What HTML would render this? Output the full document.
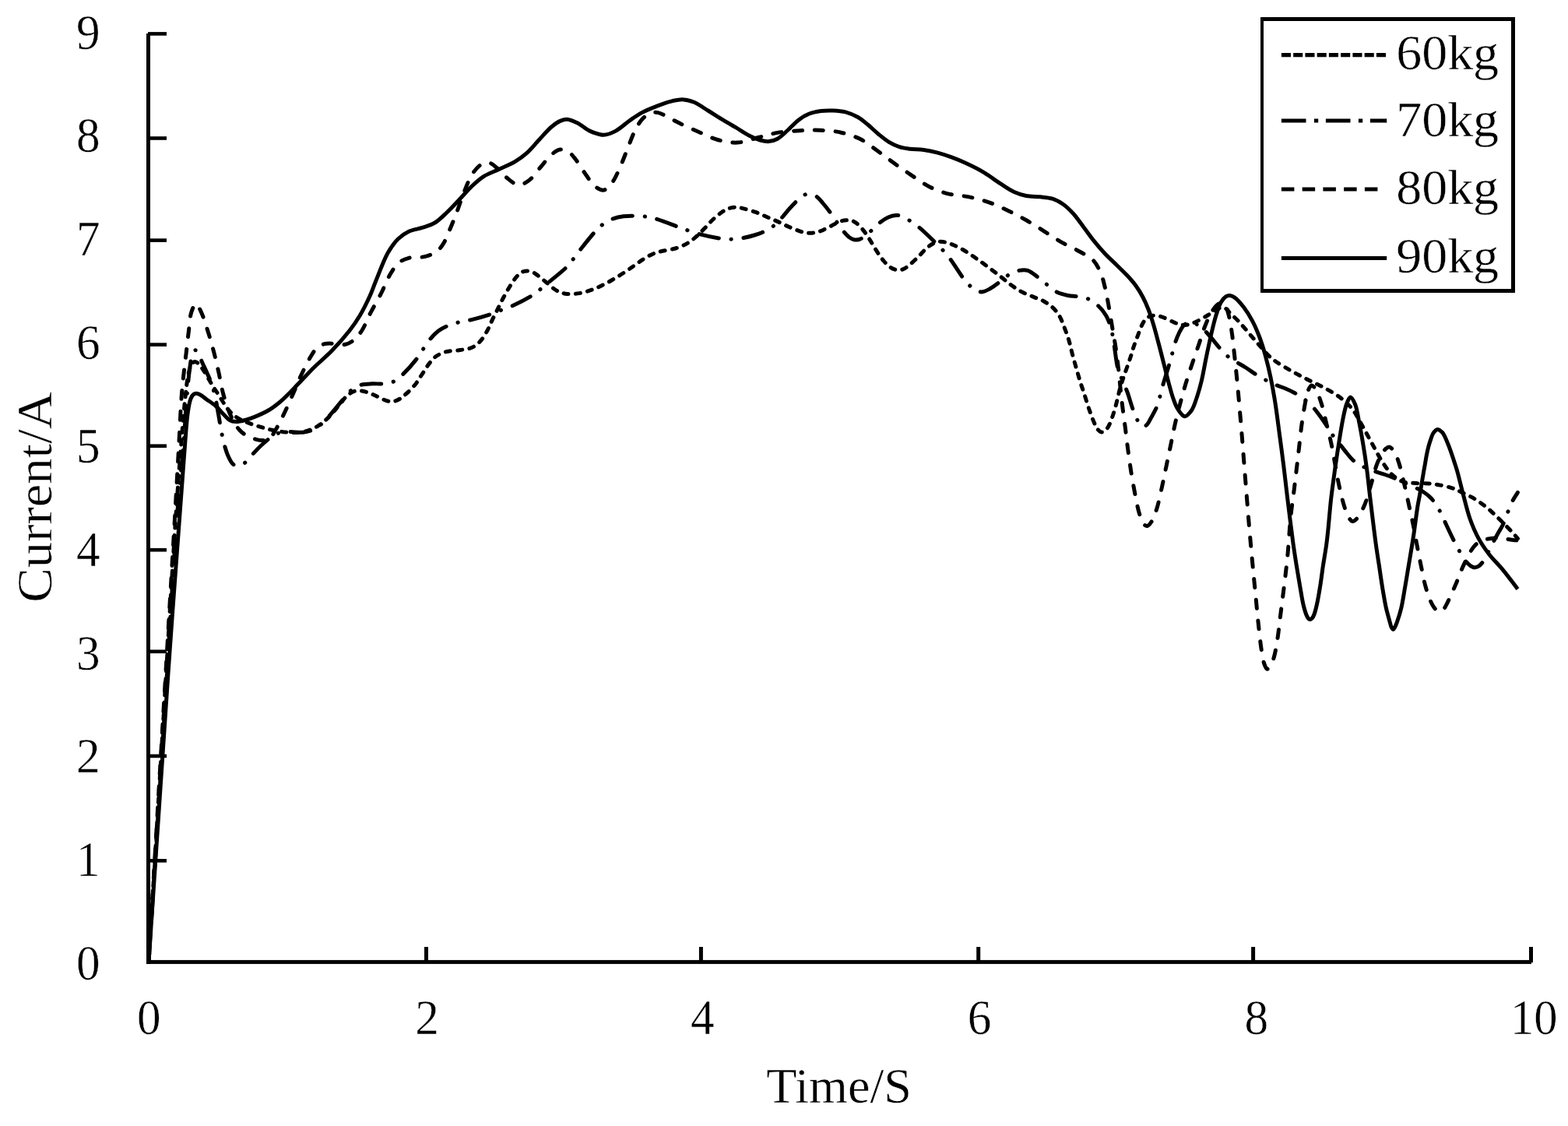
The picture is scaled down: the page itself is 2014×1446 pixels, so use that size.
<!DOCTYPE html>
<html lang="en"><head><meta charset="utf-8"><title>Current vs Time</title>
<style>html,body{margin:0;padding:0;background:#fff}body{width:2014px;height:1446px;overflow:hidden}svg{display:block}text{font-family:"Liberation Serif","DejaVu Serif",serif;fill:#000;stroke:#fff;stroke-width:.45px}</style>
</head><body>
<svg width="2014" height="1446" viewBox="0 0 2014 1446">
<rect width="2014" height="1446" fill="#fff"/>
<g fill="#000">
<rect x="188" y="43" width="5" height="1194.9"/>
<rect x="188" y="1232.9" width="1779" height="5"/>
<rect x="190" y="41.1" width="24" height="4.6"/>
<rect x="190" y="175.2" width="24" height="4.6"/>
<rect x="190" y="306.3" width="24" height="4.6"/>
<rect x="190" y="440.3" width="24" height="4.6"/>
<rect x="190" y="570.4" width="24" height="4.6"/>
<rect x="190" y="703.9" width="24" height="4.6"/>
<rect x="190" y="834.4" width="24" height="4.6"/>
<rect x="190" y="968.6" width="24" height="4.6"/>
<rect x="190" y="1103.0" width="24" height="4.6"/>
<rect x="545.0" y="1216" width="5" height="20"/>
<rect x="897.9" y="1216" width="5" height="20"/>
<rect x="1254.2" y="1216" width="5" height="20"/>
<rect x="1607.1" y="1216" width="5" height="20"/>
<rect x="1964.0" y="1216" width="5" height="20"/>
</g>
<g fill="none" stroke="#000" stroke-width="5.0" stroke-linejoin="round" stroke-linecap="round">
<path stroke-dasharray="6.1 9.26" stroke-dashoffset="-4.9" d="M191,1235C197,1136 203.1,1035.3 209,938C214.7,844.1 221.4,729 226,661C228.7,621.4 230.8,594.4 233,567C234.7,545.6 236.3,525.5 238,510C239.2,499.3 240,490.5 241.5,483C242.6,477.5 243.6,472.2 245.5,469C246.8,466.9 248.4,464.8 250,464.5C251.5,464.3 253.4,465.7 255,467C257,468.6 258.5,471.2 260.4,474.1C263.1,478.1 266.8,484.6 269.4,489C271.4,492.4 272.9,495.2 274.7,498C276.4,500.6 278,502.8 279.7,505.5C281.7,508.6 283.9,512.3 286,515.5C288,518.6 289.6,521.6 292,524.6C294.8,528 298.1,531.8 302,534.7C306.3,537.8 311.8,540.1 317,542.3C322.2,544.5 327.8,546.2 333.2,547.9C338.6,549.5 344.1,551.1 349.4,552.2C354.4,553.3 359.4,554.1 364.3,554.7C368.9,555.2 373.4,555.7 378,555.6C382.7,555.5 387.5,555.3 392.3,554C397.5,552.6 403.1,550.2 407.9,547.3C412.7,544.4 416.9,540.9 421.3,536.6C426.5,531.6 432.7,523.6 436.9,518.7C439.8,515.3 441.6,512.4 444,510C446.1,507.9 448.1,506.1 450.4,504.7C452.5,503.4 454.7,502.4 457,502C459.2,501.6 461.5,501.8 463.8,502C466.2,502.2 468.5,502.8 471,503.5C473.7,504.3 476.3,505.5 479.4,506.8C483.4,508.5 489,511.7 492.8,513.2C495.5,514.3 497.7,515.2 500,515.5C502.1,515.8 504.1,515.8 506.2,515.4C508.5,514.9 510.8,513.8 513,512.5C515.3,511.2 517.1,509.8 519.6,507.6C523.4,504.3 529.2,498.9 533,494.2C536.5,489.9 539,485.3 542,480.8C545,476.3 547.8,471.4 550.9,467.4C553.7,463.8 556.2,460.4 559.8,457.8C563.6,455.1 568.3,453.1 573.2,451.7C578.6,450.2 585.4,450.5 591.1,449.5C596.5,448.6 602.2,448.3 606.8,446.1C611.1,444 614.7,440.6 617.9,437C621.3,433.2 624,428 626.5,423.5C628.8,419.2 630.3,414.9 632.4,410.6C634.5,406.2 636.9,401.7 639.1,397.2C641.3,392.7 643.3,388.4 645.8,383.8C648.5,378.7 651.6,373 654.7,368.1C657.6,363.5 660.8,358.5 663.7,355.2C665.8,352.8 667.7,350.7 670,349.5C672.2,348.4 674.8,348 677.1,348C679.4,348 681.8,348.6 684,349.5C686.3,350.4 688.1,351.9 690.5,353.6C693.8,355.9 697.9,359.5 701.6,362.5C705.3,365.6 709.4,369.5 712.8,371.8C715.4,373.5 717.4,374.6 720,375.5C722.6,376.5 725.1,377.2 728.4,377.5C732.8,377.9 738.7,377.5 744.1,376.6C749.9,375.6 756.1,373.7 762,371.5C768,369.3 773.9,366.3 779.8,363.2C785.8,360 792,356.1 797.7,352.5C803.2,349.1 808.5,345.4 813.4,342C817.9,338.9 821.6,335.7 826,333C830.5,330.2 835.5,327.3 840,325.5C843.9,323.9 847.1,323.3 851.3,322.3C856.6,321 863.7,320.3 869.2,318.5C874.1,316.9 878.5,315 882.6,312.6C886.6,310.3 890.1,307.5 893.7,304.4C897.5,301.1 901.2,297.1 904.9,293.3C908.7,289.5 912.3,285.1 916.1,281.5C919.7,278.2 923.9,274.8 927.2,272.5C929.7,270.8 931.7,269.5 934,268.5C936.2,267.5 938.4,266.9 940.7,266.5C943.1,266.1 945.7,266.1 948,266.3C950.1,266.5 951.6,267 954.1,267.6C958.1,268.6 964.5,270.4 969.7,272.2C975,274.1 980.1,276.5 985.3,278.7C990.5,280.9 996,283.2 1001,285.5C1005.7,287.6 1009.9,289.9 1014.4,291.8C1018.8,293.7 1024,295.8 1027.8,297.1C1030.5,298 1032.7,298.6 1035,299C1037.1,299.3 1039.1,299.4 1041.2,299.3C1043.4,299.2 1045.8,299 1048,298.5C1050.2,298 1052.1,297.5 1054.6,296.5C1058.3,295 1063.7,292 1068,289.9C1071.9,288 1075.6,285.5 1079.2,284.3C1082.3,283.3 1085.4,282.9 1088.1,282.8C1090.3,282.7 1092.1,282.8 1094,283.3C1095.9,283.8 1097.4,284.6 1099.3,286C1102,288 1105.4,291.4 1108.2,294.8C1111.4,298.6 1114.3,303.3 1117.2,307.8C1120.2,312.5 1123,317.9 1126.1,322.5C1129,326.9 1131.8,331.4 1135,335C1137.8,338.3 1141.2,341.6 1144,343.5C1146.1,344.9 1148,345.7 1150,346.3C1151.8,346.8 1153.5,347 1155.2,346.9C1157,346.8 1158.8,346.3 1160.5,345.5C1162.5,344.6 1164.1,343.5 1166.3,341.8C1169.9,339 1175.5,333.6 1179.7,329.5C1183.7,325.7 1187.2,321 1190.9,318C1193.9,315.5 1197.2,313.5 1199.8,312.2C1201.7,311.3 1203.2,310.8 1205,310.5C1206.9,310.2 1209,310.3 1211,310.5C1213,310.7 1214.9,311.2 1217,311.8C1219.4,312.5 1221.6,313.3 1224.4,314.5C1228.2,316.2 1233.2,318.6 1237.8,321.2C1242.9,324.1 1248.2,327.9 1253.4,331.5C1258.6,335.1 1263.8,338.9 1269,342.8C1274.3,346.7 1279.7,350.9 1284.7,354.8C1289.4,358.4 1293.6,362.2 1298.1,365.5C1302.5,368.7 1306.7,371.8 1311.5,374.4C1316.4,377 1322.1,379 1327.1,381.1C1331.7,383.1 1336.3,384.4 1340.5,386.7C1344.5,388.9 1348.4,391.4 1351.7,394.5C1355.1,397.7 1358.2,401.5 1360.7,405.7C1363.5,410.3 1365.4,416.1 1367.4,421.3C1369.4,426.5 1371.3,431.6 1372.9,437C1374.6,442.7 1375.8,448.7 1377.4,454.8C1379.1,461.3 1381.2,468.5 1383,474.9C1384.7,480.8 1386.4,486.9 1388,492C1389.3,496.2 1390.5,499.1 1391.9,503.5C1393.9,509.5 1396.3,518 1398.6,524.7C1400.8,530.9 1403.1,537.7 1405.3,542.6C1406.9,546.1 1408.2,549.4 1410,551.5C1411.3,553.1 1412.8,554.5 1414.3,554.9C1415.6,555.2 1417.2,554.8 1418.5,554C1420.2,553 1421.7,551 1423.2,548.5C1425.6,544.6 1427.9,537.9 1429.9,532C1432.1,525.6 1433.9,517.8 1435.5,511.5C1436.8,506.3 1437.8,501.4 1439,497C1440,493.3 1441.1,490.6 1442.3,486.9C1443.8,482.5 1445.6,477.3 1447.3,472.5C1449,467.7 1450.8,462.6 1452.3,458C1453.7,453.8 1454.6,450 1456,445.8C1457.5,441.3 1459.2,436.8 1461,432.1C1462.9,427.1 1465.2,420.4 1467.2,416.5C1468.5,414 1469.5,412.2 1471,410.5C1472.3,409 1473.8,407.7 1475.5,406.8C1477.2,405.9 1478.8,405.4 1481,405.2C1484,405 1488.2,405.7 1492.1,406.8C1496.8,408.2 1502.9,411.9 1507.1,413.6C1510.1,414.8 1512.4,415.8 1515,416.5C1517.4,417.1 1519.7,417.6 1522,417.5C1524.3,417.4 1526.7,416.7 1529,416C1531.3,415.3 1533.1,414.7 1535.7,413.5C1539.5,411.8 1545,408.5 1549.4,406C1553.7,403.5 1558.6,400.4 1561.9,398.5C1564,397.3 1565.3,396.1 1567,395.5C1568.5,395 1570,394.7 1571.5,395C1573.1,395.3 1574.7,396.4 1576,397.5C1577.3,398.6 1577.8,399.9 1579.3,401.5C1581.9,404.3 1587,408.5 1590.5,412.2C1594,415.8 1597.1,419.6 1600.4,423.4C1603.7,427.3 1607.2,431.4 1610.4,435.2C1613.4,438.7 1616.1,441.8 1619.1,445.2C1622.3,448.8 1625.7,453 1629.1,456.3C1632.2,459.3 1634.9,461.5 1638.7,464.2C1643.5,467.7 1650.6,471.7 1656.1,474.9C1660.9,477.7 1665.2,480 1669.8,482.4C1674.4,484.8 1678.9,487.2 1683.5,489.5C1688.1,491.8 1692.7,493.8 1697.2,496.1C1701.8,498.5 1706.5,500.9 1710.9,503.6C1715.2,506.2 1719.6,509.1 1723.3,512C1726.6,514.5 1729.4,517.1 1732,519.8C1734.4,522.3 1736.5,524.7 1738.5,527.5C1740.7,530.5 1742.5,533.8 1744.5,537.2C1746.6,540.8 1748.5,544.5 1750.7,548.4C1753.1,552.7 1755.7,557.5 1758.2,562.1C1760.7,566.7 1763.2,571.3 1765.7,575.8C1768.2,580.3 1770.5,584.9 1773.1,589.2C1775.5,593.2 1778.2,597.4 1780.6,600.7C1782.5,603.3 1784.1,605.4 1786,607.5C1787.8,609.5 1789.8,611.2 1791.8,612.8C1793.8,614.3 1795.9,615.7 1798,616.8C1800,617.8 1801.7,618.6 1804.3,619.2C1808.2,620.1 1814.1,620.3 1819.2,620.6C1824.5,620.9 1830.1,620.5 1835.4,620.9C1840.5,621.3 1845.3,622.1 1850.3,623.1C1855.3,624.1 1861.3,625.5 1865.3,626.8C1868.1,627.7 1869.4,628.5 1872.3,629.8C1877.3,632.1 1886.2,636.1 1892.4,639.7C1898.1,643 1903.2,646.6 1908.1,650.5C1912.9,654.3 1917.3,658.5 1921.5,662.5C1925.4,666.2 1929,669.8 1932.7,673.5C1936.4,677.3 1940.8,681.7 1943.8,685C1946,687.5 1947.5,689.4 1949.4,691.6"/>
<path stroke-dasharray="25.7 15.78 0.3 15.78" stroke-dashoffset="1" d="M191,1235C197.5,1133.3 204.2,1028.4 210.5,930C216.4,837.8 222.4,728.7 227.5,662C230.5,622.3 233.8,594.7 236,567C237.7,545.6 238.6,526.7 240,510C241.1,496.9 242.1,484.9 243.5,475C244.5,467.7 245.2,460.5 247,456C248.1,453.2 249.6,449.8 251,449.7C252.3,449.6 253.8,452.1 255,454C256.7,456.7 257.8,461.2 259.5,465C261.3,469.2 263.5,473.4 265.5,478C267.7,483 270.4,488.6 272.2,494C274,499.3 275.2,504.4 276.5,510C277.9,516 278.9,522.8 280,529C281.1,534.9 282.1,541.2 283,546.5C283.8,550.9 284.3,554.3 285.2,558.4C286.1,562.8 287.2,567.7 288.4,572.1C289.6,576.4 290.9,580.7 292.5,584.5C294,587.9 295.6,591.6 297.5,594C299,595.8 300.7,597.5 302.5,598C304.2,598.5 306.1,598 308,597.5C310.3,596.8 312.7,595.7 315.1,593.9C318.2,591.5 321.2,586.8 324.5,583.3C327.9,579.7 331.4,575.9 335,572.5C338.5,569.3 341.9,566.1 345.6,563.4C349.2,560.8 352.7,558 356.8,556.5C361,555 365.6,554.8 370.5,554.5C376.2,554.2 383.6,555.8 389.2,555.2C393.8,554.7 397.6,553.8 401.6,552C405.9,550 410.1,546.9 414.1,543.5C418.5,539.7 422.4,534.6 426.6,529.8C431.1,524.7 435.6,518.7 440,513.6C444.1,508.9 447.7,503.8 452,500.5C455.7,497.6 459.5,495.5 463.8,494.2C468.2,492.9 473.2,493 478,492.8C482.9,492.6 488,493.3 492.8,492.8C497.4,492.3 502.1,491.7 506.2,489.7C510.3,487.7 513.4,484.6 517.4,480.8C522.9,475.6 530.5,466.9 535.3,460.7C539,455.9 541.2,451.6 544.2,447.2C547.1,442.9 549.9,438.6 553.1,434.8C556.2,431.2 559.3,427.8 563,425C566.7,422.2 571.1,420.1 575.5,418.2C580.1,416.3 585,415 590,413.7C595.1,412.4 599.7,412 605.6,410.6C613.4,408.7 625.5,405.2 632.4,402.8C637,401.2 639.5,399.9 643.5,398.3C648.3,396.4 653.5,394.8 659.2,392.2C666.6,388.8 677.3,383.4 683.8,379.3C688.4,376.4 691.2,373.7 694.9,370.8C698.7,367.8 701.7,365.1 706.1,361.4C712.3,356.2 722.8,348.1 728.4,342.4C732.3,338.4 734.4,335.1 737.4,331.3C740.4,327.5 742.8,324 746.3,319.5C751.2,313.3 758.9,303.4 764.2,297.7C767.9,293.7 770.5,290.9 774.3,288.1C778.3,285.2 783.1,282.5 787.7,280.8C792,279.2 796.4,278.4 801,277.8C805.7,277.2 810.7,277.2 815.6,277.3C820.4,277.4 825.5,277.6 830.1,278.3C834.4,278.9 837.4,279.6 842.3,281C850,283.2 863.8,288.7 871.4,291.5C876.4,293.3 879.4,294.5 883.7,296C888.3,297.6 892.6,299.2 898.2,300.7C905.7,302.7 917.3,305.1 925,306.2C930.8,307 935.3,307.4 940.2,307.3C944.9,307.2 949.4,306.5 954.1,305.6C959,304.7 964.2,303.5 969,302C973.5,300.6 977.9,299.1 982,297.1C986.1,295.1 990.1,292.8 993.8,289.9C997.6,286.9 1000.9,283.1 1004.3,279.5C1007.7,275.8 1010.7,271.6 1014,268C1017.1,264.6 1020.4,261.1 1023.3,258.2C1025.7,255.9 1027.6,253.5 1030,252C1032.1,250.7 1034.3,249.7 1036.5,249.3C1038.6,249 1040.9,249.3 1043,249.8C1045.1,250.3 1047,251.1 1049,252.5C1051.7,254.4 1054.3,257.8 1057,261C1060.2,264.7 1063.8,269.3 1066.9,273.5C1069.8,277.5 1072.2,281.5 1075,285.5C1077.8,289.5 1080.9,294.1 1083.7,297.5C1086,300.2 1088.1,302.7 1090.5,304.5C1092.6,306 1094.8,307.3 1097,307.8C1099.1,308.3 1101.4,308.1 1103.5,307.5C1105.7,306.9 1107.7,305.6 1110,304C1112.9,302 1116.2,298.9 1119.4,296C1123,292.8 1126.8,288.4 1130.6,285.5C1134,282.9 1137.5,280.5 1141,279C1144.2,277.6 1147.6,276.7 1150.7,276.5C1153.6,276.4 1156.2,276.8 1159,277.8C1162.3,279 1165.6,281.5 1169,283.7C1172.8,286.2 1176.5,288.7 1180.8,292.2C1186.5,296.9 1194.3,304.6 1199.8,310C1204.2,314.3 1207.9,317.9 1211.5,321.9C1214.9,325.7 1217.6,328.9 1221.1,333.5C1225.8,339.8 1232,350.3 1236.7,356.5C1240.1,361 1243.1,364.5 1246.3,367.5C1248.9,369.9 1251.2,372.3 1254,373.5C1256.5,374.6 1259.2,375.1 1262,374.8C1265.2,374.4 1268.7,372.3 1272,370.5C1275.6,368.5 1278.9,365.9 1282.5,363.2C1286.5,360.3 1290.4,356.1 1294.7,353.5C1298.9,351 1303.7,348.6 1308.1,347.6C1312.1,346.7 1316,346.1 1320,347.3C1324.9,348.8 1330.4,354.1 1335,357.5C1339.1,360.5 1342.3,363.6 1346.1,366.6C1350.1,369.7 1354,373.4 1358.4,375.6C1362.6,377.7 1367.4,378.6 1372,379.5C1376.7,380.4 1381.7,380.2 1386.3,381.1C1390.7,381.9 1395.1,382.6 1399.1,384.5C1403.3,386.5 1407.4,389.6 1410.9,393C1414.5,396.4 1417.9,400.5 1420.5,405C1423.3,409.8 1425.3,415.1 1427,421C1428.9,427.7 1429.6,435 1431,443C1432.6,452.4 1433.8,465.8 1436,474C1437.6,479.7 1439.6,483.3 1441.5,488C1443.5,492.9 1445.7,497.4 1447.8,503C1450.4,510 1453,520.1 1455.6,526.9C1457.6,532.2 1459.6,537.3 1461.6,540.8C1462.9,543.2 1464,545.3 1465.5,546.5C1466.6,547.4 1467.8,548.1 1469,548C1470.4,547.9 1472.1,546.5 1473.5,545C1475.5,542.9 1477.1,538.9 1479,535.5C1481.2,531.5 1484,526.9 1485.8,522.5C1487.5,518.2 1488.5,513.9 1489.8,509.5C1491.1,505 1492.1,500.3 1493.4,495.6C1494.7,490.8 1496.3,485.8 1497.8,481C1499.2,476.3 1500.8,471.6 1502.1,467C1503.4,462.5 1504.6,458 1505.8,453.5C1507.1,448.9 1508.1,444 1509.6,439.6C1511,435.4 1512.7,431.1 1514.5,427.5C1516.1,424.4 1517.6,421.3 1519.5,419C1521.1,417.1 1523,415.3 1525,414.5C1526.9,413.8 1529,413.7 1531,414C1533.3,414.4 1535.7,415.6 1538,417C1540.6,418.5 1543.1,420.6 1545.7,423C1548.9,425.9 1552.3,429.8 1555.5,433.5C1558.9,437.4 1562.2,441.9 1565.6,445.8C1568.9,449.6 1572.1,453.4 1575.8,456.6C1579.5,459.8 1583.9,462.2 1588,464.8C1592,467.3 1596,469.4 1600,472C1604.3,474.7 1608.6,478 1612.9,480.7C1616.9,483.2 1620.8,485.4 1624.7,487.5C1628.5,489.6 1632.1,491.6 1636.2,493.4C1640.5,495.3 1645.5,496.6 1650,498.5C1654.6,500.4 1659.3,502.6 1663.6,505C1667.7,507.3 1671.3,509.7 1675,512.5C1678.8,515.4 1682.6,518.7 1686,522.3C1689.6,526.1 1692.8,530.6 1696,535C1699.4,539.6 1703.2,545.4 1705.9,549.6C1707.9,552.7 1708.8,554.7 1710.9,557.7C1713.8,561.9 1718.7,567.7 1722.1,572C1725,575.6 1727.3,578.8 1730,582C1732.7,585.2 1735.1,588.6 1738.3,591.3C1741.7,594.2 1746,596.6 1750.1,598.8C1754.3,601 1758.6,602.7 1763.2,604.4C1768.2,606.3 1773.8,607.7 1779,609.5C1784.2,611.3 1789.9,613.4 1794.3,615.3C1797.6,616.7 1799.8,618 1803,619.5C1807,621.4 1812.4,623.5 1816.7,625.6C1820.7,627.5 1824.5,629.2 1828,631.5C1831.5,633.8 1834.8,636.2 1837.9,639.5C1841.5,643.3 1845,648.7 1847.8,653.5C1850.5,658 1852.3,662.7 1854.5,667.2C1856.6,671.5 1858.5,675.7 1860.5,680C1862.5,684.3 1864.5,688.5 1866.7,692.9C1869,697.5 1871.4,702.3 1874.1,707C1877,711.9 1880,718.1 1883.5,721.8C1886.3,724.8 1889.7,727.8 1892.5,728.5C1894.6,729 1896.7,728.4 1898.5,727.5C1900.4,726.6 1902,724.9 1903.6,722.9C1905.8,720.2 1907.9,715.9 1910,712C1912.3,707.7 1914.7,702.8 1917,698.3C1919.3,693.8 1921.7,689.2 1924,685C1926.2,681.1 1928.5,677.8 1930.4,673.7C1932.5,669.3 1934.1,664.2 1936,659.5C1937.9,654.8 1939.4,650 1941.6,645.5C1943.8,641 1946.8,636.8 1949.4,632.4"/>
<path stroke-dasharray="11 15.8" d="M191,1235C196.7,1139 202.3,1043 208,947C213.6,851 220.9,728.3 224.9,659C227.1,619.8 228.5,594.7 230,567C231.3,544.3 232.2,521 233.5,505C234.3,494.8 235.1,488.5 236,480C237,471.2 238.1,462 239.2,453C240.2,444 241.2,434.8 242.3,426C243.4,417.5 243.7,407.5 245.8,401C247.3,396.4 249.5,390.1 251.6,390C253.7,389.9 256.1,395.9 258.2,400.3C261.4,406.8 264.5,417.4 267.2,426C270,434.7 272.4,443.4 274.7,452.2C277,460.9 278.9,469.5 280.9,478.3C282.9,487.1 284.3,496.6 286.5,505C288.5,512.6 290.8,520.1 293.3,526.5C295.4,531.9 297.6,536.6 300,541C302.2,544.9 304.5,548.7 307,551.5C309,553.8 310.8,555.5 313.3,557.2C316.4,559.3 320.7,561.4 324.5,562.8C328.2,564.1 332.3,565.4 336,565.5C339.3,565.6 342.8,565.7 345.6,564C349,561.9 351.2,556.6 354,552C357.4,546.3 360.8,539.5 364.3,532.3C368.4,524 372.9,513.6 376.8,504.9C380.3,496.9 383.1,489.7 386.7,482C390.5,474 395.3,464.1 399.2,457.8C401.9,453.4 403.9,449.7 407,447C409.8,444.5 413.2,442.7 416.8,441.7C420.8,440.6 425.6,441.2 430,441.3C434.5,441.4 439.5,443.2 443.7,442.3C447.8,441.4 451.6,439.1 455,436.3C458.7,433.3 461.7,429.3 464.8,424.5C468.8,418.3 472,409.3 476,401.6C480.2,393.5 485.3,385.2 489.4,377C493.4,369.1 496.5,360.4 500.5,353.5C504,347.6 507.2,341.6 511.7,337.8C515.6,334.5 520,332.7 525.1,331.3C531,329.7 539,331.1 545.2,329.6C550.9,328.2 556.7,326.1 560.9,323C564.7,320.2 567.1,316.6 569.8,312.3C573.2,306.9 575.8,299.4 578.7,292.5C581.8,285.2 584.8,277.5 587.7,269.8C590.7,261.8 593.2,253.2 596.6,245.2C599.9,237.2 603.5,227.8 607.8,221.7C611.2,217 615.2,212.6 619,210.6C621.9,209 624.9,208.2 627.9,208.8C631.5,209.5 635.3,213.2 639,216.2C643.5,219.8 647.8,226 652.5,229.6C656.8,232.9 661.4,237.1 665.9,237.4C670.3,237.7 675,234.9 679.3,231.8C684.8,227.9 689.9,219.7 694.9,214C699.5,208.7 703.7,202.4 708.3,198.6C712,195.6 715.7,192.5 719.5,192.1C723.1,191.7 727.4,193.5 730.7,195.5C734.2,197.7 736.5,201.1 739.6,205C743.8,210.3 748.6,219.1 753,225.1C756.8,230.3 760,236.1 764.2,239.3C767.6,241.9 771.9,244.7 775.4,244.1C779.3,243.4 783.2,238.5 786.5,234.1C790.8,228.4 794.3,219.2 797.7,211.7C801,204.3 803.6,196.8 806.6,189.4C809.6,182.1 812.3,174 815.6,167.6C818.4,162.3 821,157.3 824.5,153.5C827.7,150 831.9,146.6 835.7,145.2C838.8,144.1 842,144.1 845,144.6C848,145.1 850.2,146.4 853.5,148C858.6,150.4 865.7,154.8 872.5,158.1C880.1,161.9 888.9,165.7 897.1,169.3C905.3,172.9 913.3,177.2 921.7,179.5C930,181.8 938.8,183.5 947.4,183.1C956.3,182.6 965.5,178.7 974.2,176.5C982.6,174.4 990.1,171.9 998.7,170.4C1007.9,168.8 1018.4,168.2 1027.8,167.7C1036.6,167.2 1044.9,166.8 1053.5,167.2C1062.4,167.6 1071.7,168.3 1080.3,170.2C1088.8,172.1 1097.1,174.7 1104.9,178.6C1112.8,182.5 1119.9,188.6 1127.2,193.8C1134.4,198.9 1141.2,204.3 1148.4,209.5C1155.7,214.8 1163.3,220.1 1170.8,225.1C1178.2,230.1 1185.3,235.5 1193.1,239.5C1200.9,243.4 1209.2,246.6 1217.7,248.8C1226.3,251.1 1235.7,251.1 1244.5,252.9C1253.2,254.7 1261.8,256.9 1270.2,259.8C1278.6,262.7 1286.7,266.7 1294.7,270.5C1302.7,274.3 1310.4,278.4 1318.2,282.8C1326.1,287.3 1334,292.5 1341.7,297.3C1349.2,302 1356.4,306.9 1364,311.3C1371.6,315.7 1380.4,319.4 1387.5,323.5C1393.6,327 1399.6,329.4 1404,334C1408.4,338.6 1411.4,345 1414,351C1416.6,357 1417.9,363.5 1419.5,370C1421.2,376.8 1422.3,383.4 1423.7,391.1C1425.4,400.3 1427.2,411.5 1428.8,421.3C1430.3,430.5 1432,439.2 1433.3,448.1C1434.6,456.8 1435.5,464.5 1436.6,474C1437.9,485.4 1439,499.2 1440.5,512C1442,525 1444.1,539.6 1445.6,551.5C1446.8,561.3 1447.7,569.4 1448.9,578.3C1450.1,587.2 1451.3,596 1452.7,605.1C1454.2,614.6 1456,624.7 1457.8,634C1459.5,642.8 1461.2,652.4 1463.4,659.5C1465.1,664.8 1466.7,670.4 1469,673C1470.4,674.5 1472,675.7 1473.5,675.5C1475.3,675.2 1477.3,672.6 1479,670C1481.6,666.1 1483.8,659.6 1485.8,653.2C1488.4,645.1 1490.4,634.4 1492.5,625.2C1494.5,616.2 1496.2,607.3 1498.1,598.4C1500,589.5 1501.8,580.5 1503.7,571.6C1505.5,562.7 1507.2,553.7 1509.2,544.8C1511.2,535.8 1513.6,526.7 1515.9,518C1518.1,509.8 1520.2,502.1 1522.6,494C1525.2,485.5 1528.1,476.6 1531,468C1533.8,459.5 1536.8,451.2 1539.7,442.7C1542.6,434.2 1545.3,424.8 1548.4,417.2C1551.1,410.7 1554,404.2 1557,399.5C1559.3,396 1561.5,392.8 1564,391C1565.9,389.6 1568.2,388 1570,388.5C1572,389 1573.6,392.3 1575,395C1576.8,398.5 1577.8,403.1 1579,408C1580.4,414.1 1581.5,421.6 1582.5,429C1583.7,437.2 1584.5,446.3 1585.5,455.2C1586.5,464.6 1587.5,474.1 1588.5,484C1589.5,494.5 1590.5,504.7 1591.5,516.4C1592.7,530.1 1594,545.4 1595.3,561.1C1596.7,578.7 1598.2,598.4 1599.7,617C1601.2,635.6 1602.7,654.7 1604.2,672.8C1605.7,690 1607.2,707.2 1608.7,722.9C1610,736.7 1611.2,749 1612.5,762C1613.8,775 1614.9,788.4 1616.3,801.1C1617.6,813.1 1618.9,826.5 1620.5,836C1621.6,842.7 1622.4,848.8 1624,853C1625,855.7 1626.3,859.1 1627.7,859.2C1629.1,859.3 1631.1,856.2 1632.5,854C1634.3,851.1 1635.4,847.4 1636.6,843C1638.4,836.6 1639.8,827.2 1641.1,819C1642.4,810.3 1643.3,801.1 1644.4,792.2C1645.5,783.2 1646.7,774.3 1647.8,765.3C1648.9,756.4 1650.1,747.4 1651.1,738.5C1652.1,729.6 1653,722 1654,711.7C1655.3,697.7 1656.4,677 1658,662C1659.3,649.6 1661,638.7 1662.3,628.1C1663.4,618.8 1664.4,610.7 1665.4,601.9C1666.5,592.9 1667.5,583.6 1668.6,574.5C1669.6,565.4 1670.5,556.3 1671.7,547.2C1672.9,538.1 1674.5,527.9 1676,519.8C1677.3,513.2 1678.1,506.5 1680,502C1681.3,498.9 1683,495.1 1684.7,494.9C1686.3,494.7 1688.3,497.5 1690,500C1692.7,504 1695,511.3 1697.2,518C1699.8,526 1701.8,536.2 1704,545C1706.1,553.5 1707.9,560.1 1710,570C1713,584.1 1716.5,607.6 1719.6,621.9C1721.8,632.1 1723.7,640.6 1726,648C1727.8,653.7 1729.2,659.2 1731.5,663C1733.2,665.8 1735.1,669.3 1737.2,669.5C1739.3,669.7 1741.8,667 1744,664.5C1747.2,660.8 1750.2,654.3 1752.8,648.2C1755.9,641 1758,632.3 1760.6,623.7C1763.5,614.3 1766.1,602 1769.4,594C1771.8,588.2 1774.1,583 1777,579.5C1779.2,576.9 1782,573.9 1784.3,574C1786.6,574.1 1789.1,577.6 1791,580.5C1793.5,584.2 1795.2,589.6 1797,595.1C1799.3,602 1801.1,610.7 1803.1,619C1805.3,628.1 1807.4,638.3 1809.4,647.5C1811.3,656 1813.1,663.8 1814.8,672.2C1816.6,680.9 1818.1,689.9 1819.8,699C1821.6,708.3 1823.5,718.2 1825.4,727.4C1827.2,736.2 1828.8,745.2 1831,753C1832.9,759.9 1835.1,766.8 1837.5,772C1839.3,776 1841.2,779.7 1843.5,782C1845.3,783.8 1847.7,785.6 1849.6,785.5C1851.4,785.4 1853.1,783.6 1854.5,782C1856.2,780.1 1857.2,777.6 1858.9,774.3C1861.9,768.5 1866.5,757.9 1870.1,749.7C1873.6,741.5 1876.4,733 1880.2,725.1C1883.9,717.4 1888.3,708.1 1892.5,702.8C1895.4,699.2 1897.7,696.9 1901.4,695C1905.7,692.8 1912,691.7 1917,691.2C1921.6,690.7 1925.9,691.2 1930.4,691.6C1934.9,692 1940.3,693.1 1943.8,693.5C1946.1,693.8 1947.5,693.8 1949.4,694"/>
<path stroke-linecap="butt" d="M191,1235C199.4,1111 208.1,977.2 216.1,863C223,765.5 231.3,651.1 236,592C238.3,563.3 239.3,542.2 241.5,528C242.6,520.8 243.4,515.8 245,512C246,509.6 247.1,507.6 248.5,506.5C249.5,505.7 250.7,505.3 252,505.3C253.7,505.3 256,506.4 258,507.5C260.3,508.7 262.1,510.5 264.7,512.4C268.2,515 273.4,518.2 277.2,521.5C280.9,524.7 283.9,528.8 287.1,532C289.8,534.8 292.1,537.9 295,539.5C297.5,540.9 300.1,541.4 303,541.5C306.6,541.6 311,540.5 315,539.5C319,538.5 322.6,537.2 327,535.4C332.6,533.1 340.1,529.8 345.6,526.5C350.5,523.6 354.5,520.4 358.7,517C362.8,513.6 366.6,510 370.5,506.1C374.7,502 378.8,497.4 383,493C387.1,488.7 391.7,483.8 395.4,480C398.3,476.9 400,475.1 403.4,471.8C409.1,466.2 419.1,457.8 426.6,450C434.4,442 442.9,432.4 449.2,424.3C454.4,417.7 458.1,412.2 462.2,405.3C466.7,397.6 471.4,388.1 475,380.2C478.1,373.4 479.6,368.4 482.7,361C486.9,350.8 492.7,334.3 498.3,324.5C502.5,317.1 506.8,311.2 511.7,306.5C515.9,302.5 520.1,299.7 525.1,297.3C530.5,294.8 537.3,294.1 543,292.2C548.4,290.4 553.6,289 558.6,286C564.1,282.7 569.2,277.3 574.3,272.5C579.6,267.5 584.7,261.8 589.9,256.4C595.1,250.9 600.2,244.7 605.6,239.6C610.7,234.8 615.4,230.3 621.2,226.6C627.3,222.8 634.6,220.5 641.3,217.3C648,214.1 655.3,211.3 661.4,207.6C667.1,204.2 672.1,200.6 677.1,196.1C682.6,191.2 687.5,184.7 692.7,179.2C697.9,173.7 703.3,167.2 708.3,163C712.2,159.7 715.8,157 719.5,155.4C722.5,154.1 725.2,153 728.4,153.2C732.5,153.4 737.4,155.9 741.9,158.1C747.1,160.6 751.9,165.6 757.5,168.1C763.1,170.6 769.7,173.4 775.4,173.3C780.8,173.2 785.8,170.8 791,168.1C797,164.9 803.1,158.8 808.9,154.7C814.2,151 819,147.5 824.5,144.6C830.1,141.6 836.3,139.2 842.3,136.9C848.2,134.6 854.2,132.1 860.2,130.6C866.1,129.1 872.6,127.6 878.1,127.9C882.9,128.1 886.9,129.4 891.5,131.3C897.2,133.7 903.5,138.4 909.4,142C915.4,145.7 921.2,149.6 927.2,153.2C933.1,156.8 939.1,160.2 945.1,163.7C951.1,167.3 957.4,171.7 963,174.5C967.7,176.9 972.1,178.8 976.4,180C980.2,181 983.9,181.9 987.6,181.6C991.3,181.3 995,180.2 998.7,178.2C1003.2,175.8 1007.7,170.9 1012.1,167C1016.7,162.9 1020.9,157.8 1025.6,154.2C1029.9,150.9 1034.2,148.1 1039,146.2C1043.9,144.2 1049.4,143.2 1054.6,142.5C1059.8,141.8 1065,141.8 1070.2,142C1075.4,142.2 1080.8,142.6 1085.9,143.9C1091.2,145.3 1096.7,147.6 1101.5,150.3C1106.3,153 1110.5,156.7 1114.9,160.3C1119.4,164 1123.8,168.5 1128.3,172.2C1132.7,175.8 1137.1,179.5 1141.7,182.3C1146.1,184.9 1150.6,187.1 1155.2,188.6C1159.6,190 1163.8,190.5 1168.6,191.2C1174.1,191.9 1180.5,191.8 1186.4,192.6C1192.4,193.4 1198.4,194.6 1204.3,196.1C1210.3,197.7 1216.3,199.7 1222.2,201.9C1228.2,204.1 1233.9,206.4 1240.1,209.3C1247.2,212.6 1255,216.3 1262.3,220.6C1269.9,225 1277.6,231.1 1284.7,235.6C1291,239.6 1296.7,243.8 1302.6,246.5C1307.8,248.9 1312.8,250.4 1318.2,251.5C1323.9,252.6 1330.4,252.2 1336.1,252.8C1341.5,253.4 1346.8,253.6 1351.7,255.2C1356.5,256.7 1360.8,259 1365.1,262C1369.8,265.2 1374.2,269.6 1378.5,274.2C1383.2,279.3 1387.4,285.8 1391.9,291.7C1396.4,297.6 1400.7,303.9 1405.3,309.6C1409.7,315.1 1414,320.1 1418.8,325.2C1423.7,330.4 1429.4,335.6 1434.4,340.5C1439,345.1 1443.6,349.3 1447.8,353.8C1451.8,358.1 1455.6,362.4 1459,367C1462.3,371.6 1465.3,376.5 1467.9,381.5C1470.5,386.4 1472.6,391.2 1474.7,396.5C1477,402.3 1479,408.4 1481,415C1483.3,422.4 1485.4,430.7 1487.6,439C1490,447.8 1492.4,457.4 1494.7,466.5C1497,475.4 1499.3,484.9 1501.4,492.8C1503.2,499.3 1504.5,504.9 1506.5,510.5C1508.3,515.6 1509.9,520.8 1512.6,525C1515,528.8 1518.4,534.5 1521.5,534.7C1524.4,534.9 1528,530.4 1530.5,527C1533.5,522.8 1535.2,516.4 1537.2,510.5C1539.4,504 1541.4,497 1543.2,489.5C1545.3,480.9 1546.9,470.9 1548.8,461.5C1550.8,451.9 1552.8,442 1555,432.5C1557.1,423.4 1559.2,413.6 1561.7,405.7C1563.8,399.1 1565.8,392.4 1568.4,388C1570.2,384.9 1572.3,382.2 1574.5,380.8C1576.1,379.8 1577.8,379.4 1579.5,379.5C1581.4,379.6 1583.3,380.4 1585.5,381.8C1589.1,384.2 1593.8,389.7 1597.5,394.5C1601.6,399.8 1605.4,406.1 1608.7,412.4C1612.1,418.8 1614.9,425.5 1617.6,432.5C1620.4,439.8 1622.7,447.3 1625,455.5C1627.5,464.6 1629.9,474.4 1632,484.5C1634.3,495.5 1636.3,507 1638.2,519C1640.2,532 1641.9,546.3 1643.7,559.6C1645.4,572.3 1647,584.1 1648.6,597C1650.3,610.7 1651.7,624.1 1653.6,639.3C1655.8,657.3 1658.8,681.9 1661,698C1662.6,709.4 1663.9,717.5 1665.4,727C1666.9,736.1 1668.4,745.3 1669.9,753.9C1671.3,761.7 1672.5,769.9 1674,776.4C1675.2,781.4 1676.6,786.3 1677.9,789.5C1678.7,791.4 1679.3,793 1680.3,794C1681,794.8 1681.9,795.5 1682.7,795.5C1683.5,795.5 1684.4,794.8 1685.2,794C1686.2,793 1687,791.5 1687.8,789.5C1689.1,786.3 1690.3,781.4 1691.4,776.4C1692.9,769.9 1694.2,761.7 1695.5,753.9C1696.9,745.3 1698,736 1699.3,727C1700.7,718 1702.5,708 1703.6,700C1704.5,693.7 1704.9,689.9 1705.6,683C1706.8,672.1 1708.1,654.6 1709.6,641C1711.1,628.1 1712.9,615.4 1714.6,603.2C1716.2,591.7 1717.9,580.5 1719.6,569.6C1721.2,559.3 1722.8,548.7 1724.6,539.7C1726.1,532.1 1727.5,524.4 1729.6,519C1731,515.3 1732.7,510.1 1734.5,510C1736.3,509.9 1738.8,515.1 1740.5,519C1743,524.8 1744.1,534.1 1745.7,542.2C1747.5,550.9 1749.1,560 1750.7,569.6C1752.5,580.2 1754.2,591.7 1755.7,603.2C1757.3,615.3 1758.3,626.6 1760,640.5C1762.1,658 1765.2,684 1767.4,700C1768.9,710.8 1770.1,718 1771.5,727C1772.8,736 1774,744.9 1775.5,753.9C1777,762.9 1778.6,772.8 1780.4,780.9C1781.9,787.5 1783.9,794.4 1785.2,798.9C1786,801.6 1786.3,803.8 1787.2,805.5C1787.8,806.7 1788.6,808.3 1789.3,808.3C1790,808.3 1790.9,806.7 1791.6,805.5C1792.6,803.8 1793.4,801.7 1794.4,798.9C1796,794.4 1798.2,787.6 1799.8,780.9C1801.7,772.9 1803.1,762.9 1804.7,753.9C1806.3,744.9 1807.7,736 1809.2,727C1810.7,718 1812.5,707.2 1813.7,700C1814.5,695.2 1814.8,693.1 1815.6,688C1817,678.9 1819.3,659.6 1820.9,650C1821.8,644.2 1822.6,641 1823.5,636C1824.5,630.2 1825.8,622.7 1826.7,617.2C1827.4,613 1828,609.6 1828.6,605.9C1829.2,602.3 1829.9,598.9 1830.5,595.4C1831.1,591.9 1831.6,588.4 1832.3,584.8C1833,581.1 1833.8,577.2 1834.8,573.6C1835.7,570.2 1836.8,566.7 1837.9,563.6C1838.9,560.9 1839.5,558.2 1841,556.1C1842.4,554.2 1844.4,551.6 1846.3,551.4C1848.2,551.2 1850.6,553.3 1852.2,554.9C1853.9,556.5 1854.8,558.8 1856,561.1C1857.3,563.7 1858.5,566.8 1859.7,569.8C1861,573 1862.3,576.5 1863.5,579.8C1864.6,582.9 1865.6,586 1866.6,589.1C1867.6,592.2 1868.7,595.3 1869.7,598.5C1870.8,601.9 1871.9,605.6 1872.8,609.1C1873.7,612.4 1874.4,615.3 1875.3,619C1876.5,623.8 1877.8,629.2 1879.5,635.5C1881.8,644.1 1884.6,656.4 1888,666C1891.2,675 1894.9,683.8 1899.2,691.6C1903.2,698.9 1907.6,705.2 1912.6,711.7C1917.9,718.6 1924.5,724.7 1930.4,731.8C1936.8,739.5 1943.1,748.2 1949.4,756.4"/>
</g>
<path fill="#000" fill-rule="evenodd" d="M1619,21.9H1946V376H1619ZM1623,26.9V371H1941V26.9Z"/>
<g fill="none" stroke="#000" stroke-width="5.2">
<path stroke-dasharray="12.1 3.15" d="M1645.9,70.6H1781.2"/>
<path stroke-dasharray="31.6 10.4 5.3 9.7" d="M1645.9,155H1781.2"/>
<path stroke-dasharray="16.5 10.25" d="M1645.9,243H1779"/>
<path d="M1645.9,331.5H1781.2"/>
</g>
<g font-size="63.5">
<text x="1793.2" y="88.7" textLength="131.9" lengthAdjust="spacingAndGlyphs">60kg</text>
<text x="1793.2" y="175.0" textLength="131.9" lengthAdjust="spacingAndGlyphs">70kg</text>
<text x="1793.2" y="262.3" textLength="131.9" lengthAdjust="spacingAndGlyphs">80kg</text>
<text x="1793.2" y="350.4" textLength="131.9" lengthAdjust="spacingAndGlyphs">90kg</text>
<text x="113.2" y="1258.0" text-anchor="middle" textLength="30.6" lengthAdjust="spacingAndGlyphs">0</text>
<text x="113.2" y="1125.2" text-anchor="middle" textLength="30.6" lengthAdjust="spacingAndGlyphs">1</text>
<text x="113.2" y="992.4" text-anchor="middle" textLength="30.6" lengthAdjust="spacingAndGlyphs">2</text>
<text x="113.2" y="859.5" text-anchor="middle" textLength="30.6" lengthAdjust="spacingAndGlyphs">3</text>
<text x="113.2" y="726.7" text-anchor="middle" textLength="30.6" lengthAdjust="spacingAndGlyphs">4</text>
<text x="113.2" y="593.9" text-anchor="middle" textLength="30.6" lengthAdjust="spacingAndGlyphs">5</text>
<text x="113.2" y="461.1" text-anchor="middle" textLength="30.6" lengthAdjust="spacingAndGlyphs">6</text>
<text x="113.2" y="328.3" text-anchor="middle" textLength="30.6" lengthAdjust="spacingAndGlyphs">7</text>
<text x="113.2" y="195.4" text-anchor="middle" textLength="30.6" lengthAdjust="spacingAndGlyphs">8</text>
<text x="113.2" y="62.6" text-anchor="middle" textLength="30.6" lengthAdjust="spacingAndGlyphs">9</text>
<text x="191.2" y="1327.6" text-anchor="middle" textLength="30.6" lengthAdjust="spacingAndGlyphs">0</text>
<text x="548.6" y="1327.6" text-anchor="middle" textLength="30.6" lengthAdjust="spacingAndGlyphs">2</text>
<text x="902.2" y="1327.6" text-anchor="middle" textLength="30.6" lengthAdjust="spacingAndGlyphs">4</text>
<text x="1258.0" y="1327.6" text-anchor="middle" textLength="30.6" lengthAdjust="spacingAndGlyphs">6</text>
<text x="1613.8" y="1327.6" text-anchor="middle" textLength="30.6" lengthAdjust="spacingAndGlyphs">8</text>
<text x="1970.2" y="1327.6" text-anchor="middle" textLength="60.6" lengthAdjust="spacingAndGlyphs">10</text>
<text x="1077.6" y="1416.2" text-anchor="middle" textLength="186.6" lengthAdjust="spacingAndGlyphs">Time/S</text>
<text transform="translate(66.3,638.4) rotate(-90)" text-anchor="middle" textLength="270.6" lengthAdjust="spacingAndGlyphs">Current/A</text>
</g>
</svg></body></html>
